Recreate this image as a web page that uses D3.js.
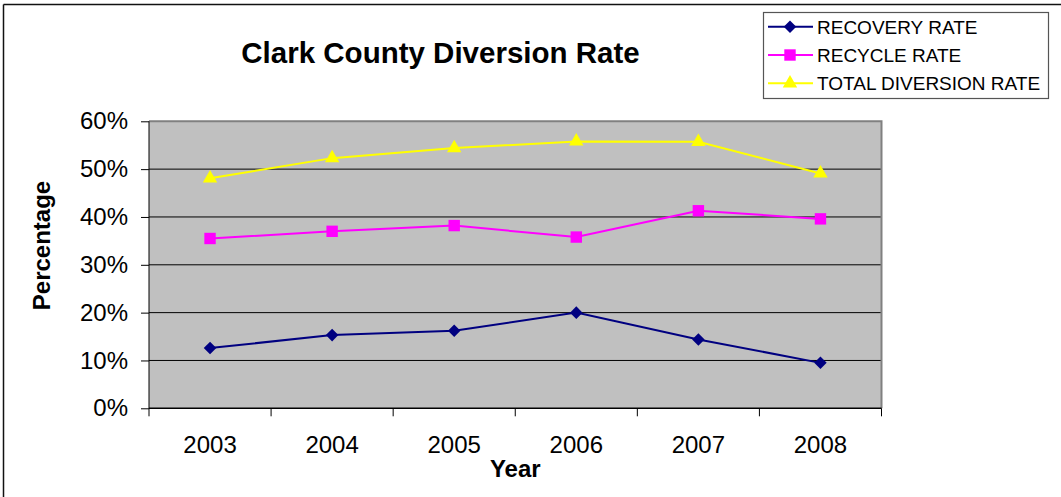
<!DOCTYPE html>
<html>
<head>
<meta charset="utf-8">
<script src="https://cdn.jsdelivr.net/npm/d3@7"></script>
<style>
  html, body { margin: 0; padding: 0; background: #fff; }
  svg { display: block; font-family: Arial, "Liberation Sans", sans-serif; }
</style>
</head>
<body>
<div id="chart"></div>
<script>
const years = ["2003", "2004", "2005", "2006", "2007", "2008"];
const recoveryRate = [12.6, 15.3, 16.2, 20.0, 14.4, 9.5];
const recycleRate = [35.5, 37.0, 38.2, 35.8, 41.3, 39.6];
const totalDiversionRate = [48.1, 52.3, 54.4, 55.8, 55.7, 49.1];
const yTicks = [0, 10, 20, 30, 40, 50, 60];

const series = [
  { name: "RECOVERY RATE", values: recoveryRate, color: "#000080", marker: "diamond" },
  { name: "RECYCLE RATE", values: recycleRate, color: "#FF00FF", marker: "square" },
  { name: "TOTAL DIVERSION RATE", values: totalDiversionRate, color: "#FFFF00", marker: "triangle" }
];

const width = 1061;
const height = 497;
const plot = { left: 149, right: 881.5, top: 121.3, bottom: 408.3 };

const svg = d3.select("#chart")
  .append("svg")
  .attr("width", width)
  .attr("height", height);

// outer frame (only top and left show in the picture)
svg.append("line").attr("x1", 3.5).attr("x2", width).attr("y1", 4.5).attr("y2", 4.5)
  .attr("stroke", "#111").attr("stroke-width", 1.5);
svg.append("line").attr("x1", 3.5).attr("x2", 3.5).attr("y1", 4.5).attr("y2", height)
  .attr("stroke", "#111").attr("stroke-width", 1.5);

const x = d3.scaleBand()
  .domain(years)
  .range([plot.left, plot.right]);

const y = d3.scaleLinear()
  .domain([0, 60])
  .range([plot.bottom, plot.top]);

// plot background
svg.append("rect")
  .attr("x", plot.left)
  .attr("y", plot.top)
  .attr("width", plot.right - plot.left)
  .attr("height", plot.bottom - plot.top)
  .attr("fill", "#C0C0C0");

// gridlines
svg.selectAll(".grid")
  .data(yTicks.filter(d => d > 0 && d < 60))
  .enter()
  .append("line")
  .attr("x1", plot.left)
  .attr("x2", plot.right)
  .attr("y1", d => y(d))
  .attr("y2", d => y(d))
  .attr("stroke", "#000")
  .attr("stroke-width", 1);

// top / right border of plot area
svg.append("path")
  .attr("d", `M${plot.left},${plot.top}H${plot.right}V${plot.bottom}`)
  .attr("fill", "none")
  .attr("stroke", "#808080")
  .attr("stroke-width", 2);

// y axis
const yAxis = svg.append("g")
  .attr("transform", `translate(${plot.left},0)`)
  .call(d3.axisLeft(y)
    .tickValues(yTicks)
    .tickSize(8)
    .tickPadding(13)
    .tickFormat(d => d + "%"));
yAxis.select(".domain").attr("stroke", "#000").attr("d", `M0,${plot.top}V${plot.bottom + 8}`);
yAxis.selectAll(".tick line").attr("stroke", "#000");
yAxis.selectAll("text")
  .attr("font-size", "24px")
  .attr("font-family", "Arial, 'Liberation Sans', sans-serif")
  .attr("fill", "#000");

// x axis line, boundary ticks and labels
svg.append("line")
  .attr("x1", plot.left).attr("x2", plot.right)
  .attr("y1", plot.bottom).attr("y2", plot.bottom)
  .attr("stroke", "#000").attr("stroke-width", 1.5);

const bounds = years.map(d => x(d)).concat([x(years[years.length - 1]) + x.bandwidth()]);
svg.selectAll(".xtick")
  .data(bounds.slice(1))
  .enter()
  .append("line")
  .attr("x1", d => d).attr("x2", d => d)
  .attr("y1", plot.bottom).attr("y2", plot.bottom + 8)
  .attr("stroke", "#000");

svg.selectAll(".xlabel")
  .data(years)
  .enter()
  .append("text")
  .attr("x", d => x(d) + x.bandwidth() / 2)
  .attr("y", 453)
  .attr("text-anchor", "middle")
  .attr("font-size", "24px")
  .text(d => d);

// lines and markers
const line = d3.line()
  .x((d, i) => x(years[i]) + x.bandwidth() / 2)
  .y(d => y(d));

const symbolFor = {
  diamond: d3.symbol().type(d3.symbolDiamond2).size(100),
  square: d3.symbol().type(d3.symbolSquare).size(130),
  triangle: d3.symbol().type(d3.symbolTriangle).size(90)
};

series.forEach(s => {
  svg.append("path")
    .datum(s.values)
    .attr("d", line)
    .attr("fill", "none")
    .attr("stroke", s.color)
    .attr("stroke-width", 2);

  svg.selectAll(null)
    .data(s.values)
    .enter()
    .append("path")
    .attr("transform", (d, i) => `translate(${x(years[i]) + x.bandwidth() / 2},${y(d)})`)
    .attr("d", symbolFor[s.marker])
    .attr("fill", s.color);
});

// title
svg.append("text")
  .attr("x", 440.5)
  .attr("y", 63)
  .attr("text-anchor", "middle")
  .attr("font-size", "29.5px")
  .attr("font-weight", "bold")
  .text("Clark County Diversion Rate");

// axis titles
svg.append("text")
  .attr("x", (plot.left + plot.right) / 2)
  .attr("y", 477)
  .attr("text-anchor", "middle")
  .attr("font-size", "24px")
  .attr("font-weight", "bold")
  .text("Year");

svg.append("text")
  .attr("transform", "translate(50,245.5) rotate(-90)")
  .attr("text-anchor", "middle")
  .attr("font-size", "24px")
  .attr("font-weight", "bold")
  .text("Percentage");

// legend
const legend = svg.append("g");
legend.append("rect")
  .attr("x", 763.5)
  .attr("y", 12.5)
  .attr("width", 285)
  .attr("height", 86)
  .attr("fill", "#fff")
  .attr("stroke", "#555")
  .attr("stroke-width", 1.2);

const legendY = d3.scalePoint()
  .domain(series.map(d => d.name))
  .range([26.7, 83.3]);

const items = legend.selectAll(".item")
  .data(series)
  .enter()
  .append("g")
  .attr("transform", d => `translate(0,${legendY(d.name)})`);

items.append("line")
  .attr("x1", 768).attr("x2", 813)
  .attr("stroke", d => d.color)
  .attr("stroke-width", 2);

items.append("path")
  .attr("transform", "translate(790,0)")
  .attr("d", d => symbolFor[d.marker]())
  .attr("fill", d => d.color);

items.append("text")
  .attr("x", 817)
  .attr("y", 7)
  .attr("font-size", "19px")
  .text(d => d.name);
</script>
</body>
</html>
